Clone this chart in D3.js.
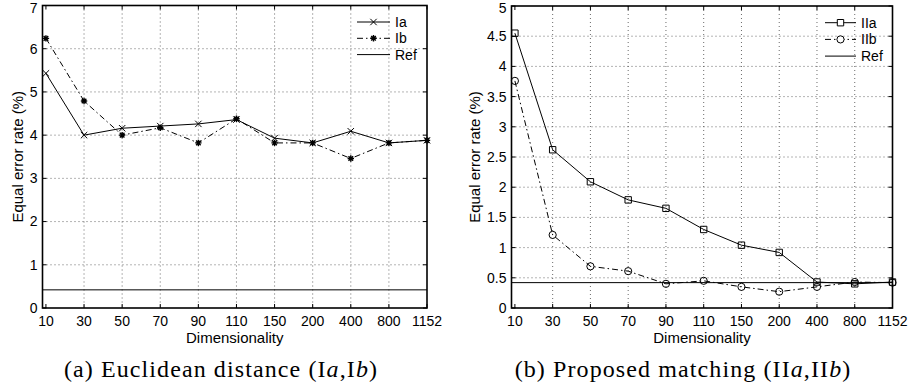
<!DOCTYPE html>
<html>
<head>
<meta charset="utf-8">
<script src="https://cdn.jsdelivr.net/npm/d3@7"></script>
<style>
  body { margin: 0; background: #fff; }
  svg { display: block; }
  .tick-label, .legend-label { font-family: "Liberation Sans", Arial, sans-serif; font-size: 14px; fill: #000; }
  .axis-title { font-family: "Liberation Sans", Arial, sans-serif; font-size: 15px; fill: #000; }
  .caption { font-family: "Liberation Serif", "DejaVu Serif", serif; font-size: 24px; letter-spacing: 1.1px; fill: #000; }
</style>
</head>
<body>
<svg id="chart" width="910" height="388"></svg>
<script>
// dimensionality categories (x axis)
const dims = ['10', '30', '50', '70', '90', '110', '150', '200', '400', '800', '1152'];

// (a) Euclidean distance
const eerIa = [5.43, 4.0, 4.16, 4.21, 4.26, 4.36, 3.93, 3.82, 4.09, 3.82, 3.88];
const eerIb = [6.24, 4.79, 4.0, 4.17, 3.82, 4.38, 3.82, 3.82, 3.46, 3.82, 3.88];

// (b) proposed matching
const eerIIa = [4.55, 2.62, 2.09, 1.79, 1.65, 1.30, 1.04, 0.92, 0.43, 0.40, 0.43];
const eerIIb = [3.76, 1.21, 0.69, 0.61, 0.40, 0.45, 0.35, 0.27, 0.35, 0.43, 0.42];

const refEer = 0.42;

const yTicksA = [0, 1, 2, 3, 4, 5, 6, 7];
const yTicksB = [0, 0.5, 1, 1.5, 2, 2.5, 3, 3.5, 4, 4.5, 5];

const svg = d3.select('#chart');

// little marker glyphs, drawn around (0,0)
function markerPath(kind) {
  const r = 3.2;
  if (kind === 'x') return `M${-r},${-r}L${r},${r}M${-r},${r}L${r},${-r}`;
  if (kind === 'star') {
    const d = r * 0.72;
    return `M${-r},0L${r},0M0,${-r}L0,${r}M${-d},${-d}L${d},${d}M${-d},${d}L${d},${-d}`;
  }
  if (kind === 'square') return `M${-r},${-r}H${r}V${r}H${-r}Z`;
  if (kind === 'circle') return d3.arc()({ innerRadius: 0, outerRadius: 3.6, startAngle: 0, endAngle: 2 * Math.PI });
  return '';
}

function drawPanel(cfg) {
  const g = svg.append('g');
  const x = d3.scaleLinear().domain([-0.09, dims.length - 1]).range([cfg.left, cfg.right]);
  const y = d3.scaleLinear().domain([0, cfg.yMax]).range([cfg.bottom, cfg.top]);

  // grid
  g.append('g').selectAll('line').data(dims.slice(1, -1)).join('line')
      .attr('x1', (d, i) => x(i + 1)).attr('x2', (d, i) => x(i + 1))
      .attr('y1', cfg.top).attr('y2', cfg.bottom)
      .attr('stroke', '#444').attr('stroke-width', 0.8).attr('stroke-dasharray', '1,3');
  g.append('g').selectAll('line').data(cfg.yTicks.slice(1, -1)).join('line')
      .attr('x1', cfg.left).attr('x2', cfg.right)
      .attr('y1', d => y(d)).attr('y2', d => y(d))
      .attr('stroke', '#444').attr('stroke-width', 0.8).attr('stroke-dasharray', '1,3');

  // inward ticks on all four sides
  const tl = 4;
  const ticks = g.append('g').attr('stroke', '#000').attr('stroke-width', 1);
  dims.forEach((d, i) => {
    ticks.append('line').attr('x1', x(i)).attr('x2', x(i)).attr('y1', cfg.bottom).attr('y2', cfg.bottom - tl);
    ticks.append('line').attr('x1', x(i)).attr('x2', x(i)).attr('y1', cfg.top).attr('y2', cfg.top + tl);
  });
  cfg.yTicks.forEach(v => {
    ticks.append('line').attr('x1', cfg.left).attr('x2', cfg.left + tl).attr('y1', y(v)).attr('y2', y(v));
    ticks.append('line').attr('x1', cfg.right).attr('x2', cfg.right - tl).attr('y1', y(v)).attr('y2', y(v));
  });

  // tick labels
  g.append('g').selectAll('text').data(dims).join('text')
      .attr('class', 'tick-label')
      .attr('x', (d, i) => x(i)).attr('y', cfg.bottom + 18)
      .attr('text-anchor', 'middle')
      .text(d => d);
  g.append('g').selectAll('text').data(cfg.yTicks).join('text')
      .attr('class', 'tick-label')
      .attr('x', cfg.left - 5).attr('y', d => Math.max(y(d), 8)).attr('dy', '0.35em')
      .attr('text-anchor', 'end')
      .text(d => d);

  // axis titles
  g.append('text').attr('class', 'axis-title')
      .attr('x', (cfg.left + cfg.right) / 2).attr('y', cfg.bottom + 35)
      .attr('text-anchor', 'middle').text('Dimensionality');
  g.append('text').attr('class', 'axis-title')
      .attr('transform', `translate(${cfg.yTitleX},${(cfg.top + cfg.bottom) / 2}) rotate(-90)`)
      .attr('dy', '0.35em')
      .attr('text-anchor', 'middle').text('Equal error rate (%)');

  // reference line
  g.append('line').attr('x1', cfg.left).attr('x2', cfg.right)
      .attr('y1', y(refEer)).attr('y2', y(refEer))
      .attr('stroke', '#000').attr('stroke-width', 1);

  const line = d3.line().x((d, i) => x(i)).y(d => y(d));
  cfg.series.forEach(s => {
    g.append('path').datum(s.values)
        .attr('d', line)
        .attr('fill', 'none').attr('stroke', '#000').attr('stroke-width', 1)
        .attr('stroke-dasharray', s.dash);
    g.append('g').selectAll('path').data(s.values).join('path')
        .attr('transform', (d, i) => `translate(${x(i)},${y(d)})`)
        .attr('d', markerPath(s.marker))
        .attr('fill', 'none')
        .attr('stroke', '#000').attr('stroke-width', s.marker === 'star' ? 1.4 : 1);
  });

  // frame
  g.append('rect')
      .attr('x', cfg.left).attr('y', cfg.top)
      .attr('width', cfg.right - cfg.left).attr('height', cfg.bottom - cfg.top)
      .attr('fill', 'none').attr('stroke', '#000').attr('stroke-width', 1.6);

  // legend
  const leg = g.append('g');
  const entries = cfg.series.concat([{ name: 'Ref', dash: null, marker: null }]);
  entries.forEach((s, k) => {
    const ly = cfg.legend.y + k * cfg.legend.step;
    leg.append('line')
        .attr('x1', cfg.legend.x1).attr('x2', cfg.legend.x2)
        .attr('y1', ly).attr('y2', ly)
        .attr('stroke', '#000').attr('stroke-width', 1)
        .attr('stroke-dasharray', s.dash);
    if (s.marker) {
      leg.append('path')
          .attr('transform', `translate(${(cfg.legend.x1 + cfg.legend.x2) / 2},${ly})`)
          .attr('d', markerPath(s.marker))
          .attr('fill', '#fff')
          .attr('stroke', '#000').attr('stroke-width', s.marker === 'star' ? 1.4 : 1);
    }
    leg.append('text').attr('class', 'legend-label')
        .attr('x', cfg.legend.x2 + 5).attr('y', ly).attr('dy', '0.35em')
        .text(s.name);
  });

  // caption
  const cap = g.append('text').attr('class', 'caption')
      .attr('x', cfg.captionX).attr('y', 377).attr('text-anchor', 'middle');
  cfg.caption.forEach(part => {
    cap.append('tspan').attr('font-style', part.italic ? 'italic' : null).text(part.t);
  });
}

drawPanel({
  left: 42.5, right: 427, top: 5.5, bottom: 308,
  yMax: 7, yTicks: yTicksA, yTitleX: 18,
  series: [
    { name: 'Ia', values: eerIa, marker: 'x', dash: null },
    { name: 'Ib', values: eerIb, marker: 'star', dash: '6,3,1.5,3' }
  ],
  legend: { x1: 357, x2: 390, y: 22, step: 16.3 },
  captionX: 221,
  caption: [{ t: '(a) Euclidean distance (I' }, { t: 'a', italic: true }, { t: ',I' }, { t: 'b', italic: true }, { t: ')' }]
});

drawPanel({
  left: 511.5, right: 892.5, top: 6, bottom: 308,
  yMax: 5, yTicks: yTicksB, yTitleX: 475,
  series: [
    { name: 'IIa', values: eerIIa, marker: 'square', dash: null },
    { name: 'IIb', values: eerIIb, marker: 'circle', dash: '6,3,1.5,3' }
  ],
  legend: { x1: 825, x2: 856, y: 22.7, step: 16.7 },
  captionX: 683,
  caption: [{ t: '(b) Proposed matching (II' }, { t: 'a', italic: true }, { t: ',II' }, { t: 'b', italic: true }, { t: ')' }]
});
</script>
</body>
</html>
